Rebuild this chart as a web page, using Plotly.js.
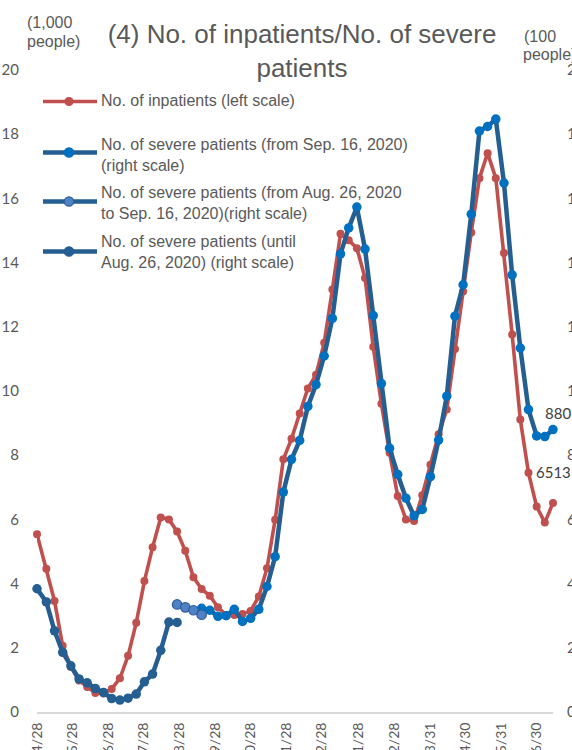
<!DOCTYPE html>
<html><head><meta charset="utf-8">
<script src="https://cdn.plot.ly/plotly-3.0.1.min.js"></script>
<style>html,body{margin:0;padding:0;background:#fff;overflow:hidden}</style>
</head><body><div id="chart" style="width:572px;height:750px"></div>
<script>
// Weekly reference dates (first point 4/28/2020, then Wednesdays)
const dates = [
 '2020-04-28','2020-05-06','2020-05-13','2020-05-20','2020-05-27','2020-06-03','2020-06-10','2020-06-17','2020-06-24','2020-07-01',
 '2020-07-08','2020-07-15','2020-07-22','2020-07-29','2020-08-05','2020-08-12','2020-08-19','2020-08-26','2020-09-02','2020-09-09',
 '2020-09-16','2020-09-23','2020-09-30','2020-10-07','2020-10-14','2020-10-21','2020-10-28','2020-11-04','2020-11-11','2020-11-18',
 '2020-11-25','2020-12-02','2020-12-09','2020-12-16','2020-12-23','2020-12-30','2021-01-06','2021-01-13','2021-01-20','2021-01-27',
 '2021-02-03','2021-02-10','2021-02-17','2021-02-24','2021-03-03','2021-03-10','2021-03-17','2021-03-24','2021-03-31','2021-04-07',
 '2021-04-14','2021-04-21','2021-04-28','2021-05-05','2021-05-12','2021-05-19','2021-05-26','2021-06-02','2021-06-09','2021-06-16',
 '2021-06-23','2021-06-30','2021-07-07','2021-07-14'];

const tickDates = ['2020-04-28','2020-05-28','2020-06-28','2020-07-28','2020-08-28','2020-09-28','2020-10-28','2020-11-28',
 '2020-12-28','2021-01-28','2021-02-28','2021-03-31','2021-04-30','2021-05-31','2021-06-30'];
const tickLabels = ['4/28','5/28','6/28','7/28','8/28','9/28','10/28','11/28','12/28','1/28','2/28','3/31','4/30','5/31','6/30'];

// No. of inpatients (1,000 people, left scale)
const inpatients = [5.54,4.46,3.46,2.06,1.40,0.98,0.78,0.59,0.58,0.72,
 1.05,1.75,2.78,4.08,5.13,6.06,6.00,5.62,5.02,4.20,
 3.83,3.62,3.26,3.02,3.02,3.05,3.15,3.60,4.48,5.99,
 7.87,8.51,9.30,10.08,10.51,11.50,13.16,14.90,14.70,14.45,
 13.52,11.38,9.60,8.08,6.73,6.00,5.95,6.75,7.70,8.65,
 9.42,11.31,13.10,14.94,16.63,17.41,16.63,14.30,11.76,9.11,
 7.45,6.40,5.90,6.513];

// No. of severe patients (100 people, right scale)
const severeUntilAug26 = [3.84,3.43,2.53,1.86,1.44,1.03,0.91,0.73,0.61,0.42,0.37,0.43,0.56,0.94,1.18,1.92,2.80,2.79];
const severeAug26toSep16 = [3.35,3.26,3.17,3.03];
const severeFromSep16 = [3.23,3.17,2.98,3.00,3.20,2.82,2.92,3.20,3.91,4.84,
 6.85,7.87,8.46,9.52,10.20,11.09,12.26,14.27,15.08,15.73,
 14.42,12.35,10.23,8.22,7.40,6.66,6.11,6.31,7.33,8.47,
 9.84,12.33,13.31,15.51,18.10,18.24,18.47,16.48,13.62,11.34,
 9.42,8.60,8.58,8.80];

const legendLabels = [
 'No. of inpatients (left scale)',
 'No. of severe patients (from Sep. 16, 2020)<br>(right scale)',
 'No. of severe patients (from Aug. 26, 2020<br>to Sep. 16, 2020)(right scale)',
 'No. of severe patients (until<br>Aug. 26, 2020) (right scale)'];

const W=572, H=750, ML=37, MR=19, MT=70, MB=38;
const PW=W-ML-MR, PH=H-MT-MB;
const px = x => (x-ML)/PW;
const py = y => (H-MB-y)/PH;

const RED='#C0504D', NAVY='#255E91', BRIGHT='#0070C0', MID='#4F81C7', GRAY='#595959';
const TXT='Liberation Sans, Arial, sans-serif';
const NUM='Lato, Carlito, Calibri, sans-serif';

const iUntilEnd = severeUntilAug26.length;
const iMidStart = iUntilEnd - 1;
const iFromStart = dates.length - severeFromSep16.length;

const traces = [
 {x:dates, y:inpatients, yaxis:'y', mode:'lines+markers', name:legendLabels[0], cliponaxis:false,
  line:{color:RED, width:3.6}, marker:{color:RED, size:8}, showlegend:false},
 {x:dates.slice(iFromStart), y:severeFromSep16, yaxis:'y2', mode:'lines+markers', name:legendLabels[1], cliponaxis:false,
  line:{color:NAVY, width:4.5}, marker:{color:BRIGHT, size:9.5}, showlegend:false},
 {x:dates.slice(iMidStart, iMidStart+severeAug26toSep16.length), y:severeAug26toSep16, yaxis:'y2', mode:'lines+markers', name:legendLabels[2], cliponaxis:false,
  line:{color:NAVY, width:4.5}, marker:{color:MID, size:9.5, line:{color:'#2F5F98', width:1.2}}, showlegend:false},
 {x:dates.slice(0, iUntilEnd), y:severeUntilAug26, yaxis:'y2', mode:'lines+markers', name:legendLabels[3], cliponaxis:false,
  line:{color:NAVY, width:4.5}, marker:{color:NAVY, size:9.5}, showlegend:false}
];

// manual legend (pixel layout)
const legendItems = [
 {lineY:101.5, textY:101, lc:RED, mc:RED, ml:RED, r:4, lw:3.6},
 {lineY:152.5, textY:155, lc:NAVY, mc:BRIGHT, ml:BRIGHT, r:4.7, lw:4.5},
 {lineY:201.5, textY:202.5, lc:NAVY, mc:MID, ml:'#2F5F98', r:4.7, lw:4.5},
 {lineY:251.5, textY:252, lc:NAVY, mc:NAVY, ml:NAVY, r:4.7, lw:4.5}
];
const shapes = [], annotations = [];
legendItems.forEach((it,k)=>{
  shapes.push({type:'line', xref:'paper', yref:'paper', x0:px(43), x1:px(97), y0:py(it.lineY), y1:py(it.lineY),
    line:{color:it.lc, width:it.lw}});
  shapes.push({type:'circle', xref:'paper', yref:'paper', x0:px(69-it.r), x1:px(69+it.r), y0:py(it.lineY+it.r), y1:py(it.lineY-it.r),
    fillcolor:it.mc, line:{color:it.ml, width:1.2}});
  annotations.push({xref:'paper', yref:'paper', x:px(99), y:py(it.textY), xanchor:'left', yanchor:'middle', align:'left',
    text:legendLabels[k], showarrow:false, font:{family:TXT, size:16, color:GRAY}});
});

// axis unit titles
annotations.push({xref:'paper', yref:'paper', x:px(49), y:py(23), xanchor:'center', yanchor:'middle', text:'(1,000', showarrow:false, font:{family:TXT,size:16,color:GRAY}});
annotations.push({xref:'paper', yref:'paper', x:px(53), y:py(41), xanchor:'center', yanchor:'middle', text:'people)', showarrow:false, font:{family:TXT,size:16,color:GRAY}});
annotations.push({xref:'paper', yref:'paper', x:px(522), y:py(36), xanchor:'left', yanchor:'middle', text:'(100', showarrow:false, font:{family:TXT,size:16,color:GRAY}});
annotations.push({xref:'paper', yref:'paper', x:px(521), y:py(54), xanchor:'left', yanchor:'middle', text:'people)', showarrow:false, font:{family:TXT,size:16,color:GRAY}});

// data labels on last points
const lastI = dates.length-1;
annotations.push({xref:'x', yref:'y2', x:dates[lastI], y:severeFromSep16[severeFromSep16.length-1], xanchor:'center', yanchor:'middle',
  xshift:5, yshift:17, text:String(Math.round(severeFromSep16[severeFromSep16.length-1]*100)), showarrow:false, font:{family:NUM,size:15,color:'#404040'}});
annotations.push({xref:'x', yref:'y', x:dates[lastI], y:inpatients[lastI], xanchor:'center', yanchor:'middle',
  xshift:0, yshift:31, text:String(Math.round(inpatients[lastI]*1000)), showarrow:false, font:{family:NUM,size:15,color:'#404040'}});

const yTicks = [0,2,4,6,8,10,12,14,16,18,20];
const layout = {
  width:W, height:H, margin:{l:ML, r:MR, t:MT, b:MB, pad:0},
  paper_bgcolor:'#fff', plot_bgcolor:'#fff',
  title:{text:'(4) No. of inpatients/No. of severe<br>patients', font:{family:TXT, size:26, color:GRAY},
    xref:'container', x:302/W, xanchor:'center', yref:'container', y:1-43/H, yanchor:'top'},
  xaxis:{type:'date', range:[dates[0], dates[lastI]], tickmode:'array', tickvals:tickDates, ticktext:tickLabels, tickangle:-90,
    showline:true, linecolor:'#D9D9D9', linewidth:2, showgrid:false, zeroline:false,
    ticks:'outside', ticklen:3, tickcolor:'rgba(0,0,0,0)', tickfont:{family:NUM, size:14, color:GRAY}, automargin:false},
  yaxis:{range:[0,20], tickmode:'array', tickvals:yTicks, showgrid:false, zeroline:false, showline:false,
    ticks:'outside', ticklen:14, tickcolor:'rgba(0,0,0,0)', tickfont:{family:NUM, size:15, color:GRAY}, automargin:false},
  yaxis2:{range:[0,20], tickmode:'array', tickvals:yTicks, overlaying:'y', side:'right', showgrid:false, zeroline:false, showline:false,
    ticks:'outside', ticklen:10, tickcolor:'rgba(0,0,0,0)', tickfont:{family:NUM, size:15, color:GRAY}, automargin:false},
  shapes:shapes, annotations:annotations, showlegend:false
};
Plotly.newPlot('chart', traces, layout, {staticPlot:true, displayModeBar:false});
</script></body></html>
